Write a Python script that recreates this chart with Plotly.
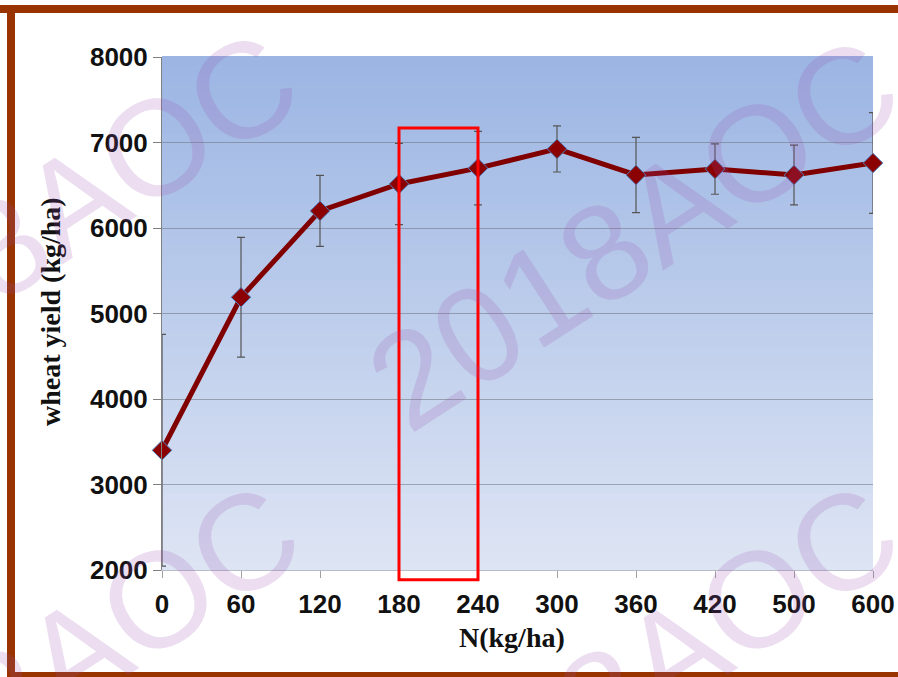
import plotly.graph_objects as go

# ---- data ----
n_rates = ["0", "60", "120", "180", "240", "300", "360", "420", "500", "600"]
yield_kg = [3400, 5190, 6200, 6515, 6700, 6925, 6620, 6690, 6620, 6760]
yield_err = [1355, 700, 415, 475, 430, 270, 440, 295, 350, 590]
y_ticks = [2000, 3000, 4000, 5000, 6000, 7000, 8000]
y_range = [2000, 8000]
highlight = ("180", "240")
highlight_y = (1885, 7170)
watermark_text = "2018AOC"

W, H = 898, 677
L, R, T, B = 162, 873, 57, 570  # plot area in pixels


def px(x):
    return (x - L) / (R - L)


def py(y):
    return (B - y) / (B - T)


xpos = list(range(len(n_rates)))

fig = go.Figure()
fig.add_trace(go.Scatter(
    x=xpos, y=yield_kg,
    mode="lines+markers",
    line=dict(color="#800000", width=5),
    marker=dict(symbol="diamond", size=15, color="#8b0000",
                line=dict(color="#4f81bd", width=1)),
    error_y=dict(type="data", array=yield_err, visible=True,
                 color="#555555", thickness=1.2, width=4),
    cliponaxis=False,
    showlegend=False,
))

shapes = []
# vertical gradient background of plot area
top_c = (155, 181, 227)
bot_c = (222, 229, 244)
nb = 60
for i in range(nb):
    t = (i + 0.5) / nb
    c = tuple(int(round(bot_c[k] + (top_c[k] - bot_c[k]) * t)) for k in range(3))
    shapes.append(dict(type="rect", xref="paper", yref="paper",
                       x0=0, x1=1, y0=i / nb, y1=(i + 1) / nb + 0.002,
                       fillcolor="rgb(%d,%d,%d)" % c, line=dict(width=0),
                       layer="below"))

# highlight box around 180-240 (extends below the axis, so paper refs)
i0 = n_rates.index(highlight[0])
i1 = n_rates.index(highlight[1])
nx = len(n_rates) - 1
span = y_range[1] - y_range[0]
shapes.append(dict(type="rect", xref="paper", yref="paper",
                   x0=i0 / nx, x1=i1 / nx,
                   y0=(highlight_y[0] - y_range[0]) / span,
                   y1=(highlight_y[1] - y_range[0]) / span,
                   line=dict(color="#ff0000", width=3),
                   fillcolor="rgba(0,0,0,0)", layer="above"))

# brown frame
brown = "#993300"
shapes.append(dict(type="rect", xref="paper", yref="paper",
                   x0=px(0), x1=px(W), y0=py(13), y1=py(5),
                   fillcolor=brown, line=dict(width=0), layer="above"))
shapes.append(dict(type="rect", xref="paper", yref="paper",
                   x0=px(7), x1=px(15), y0=py(677), y1=py(5),
                   fillcolor=brown, line=dict(width=0), layer="above"))
shapes.append(dict(type="rect", xref="paper", yref="paper",
                   x0=px(7), x1=px(W), y0=py(677), y1=py(672),
                   fillcolor=brown, line=dict(width=0), layer="above"))

annotations = []
# axis titles
annotations.append(dict(text="<b>N(kg/ha)</b>", xref="paper", yref="paper",
                        x=px(512), y=py(637), showarrow=False,
                        font=dict(family="Liberation Serif, Times New Roman, serif",
                                  size=28, color="#111111"),
                        xanchor="center", yanchor="middle"))
annotations.append(dict(text="<b>wheat yield (kg/ha)</b>", xref="paper", yref="paper",
                        x=px(50), y=py(312), showarrow=False, textangle=-90,
                        font=dict(family="Liberation Serif, Times New Roman, serif",
                                  size=28, color="#111111"),
                        xanchor="center", yanchor="middle"))

# watermarks
for (cx, cy) in [(32, 228), (633, 234), (34, 680), (633, 680)]:
    annotations.append(dict(text=watermark_text, xref="paper", yref="paper",
                            x=px(cx), y=py(cy), showarrow=False, textangle=-33,
                            font=dict(family="Liberation Sans, Arial, sans-serif",
                                      size=136, color="rgba(155,81,176,0.19)"),
                            xanchor="center", yanchor="middle"))

fig.update_layout(
    width=W, height=H,
    margin=dict(l=L, r=W - R, t=T, b=H - B, pad=0, autoexpand=False),
    paper_bgcolor="white",
    plot_bgcolor="rgba(0,0,0,0)",
    shapes=shapes,
    annotations=annotations,
    xaxis=dict(
        range=[0, nx], automargin=False,
        tickmode="array", tickvals=xpos,
        ticktext=["<b>%s</b>" % t for t in n_rates],
        showgrid=False, zeroline=False,
        showline=True, linecolor="#b8bcc6", linewidth=1,
        ticks="outside", ticklen=7, tickcolor="#a0a0a0", tickwidth=1,
        tickfont=dict(family="Liberation Sans, Arial, sans-serif", size=26, color="#111111"),
        ticklabelstandoff=4,
    ),
    yaxis=dict(
        range=y_range, automargin=False,
        tickmode="array", tickvals=y_ticks,
        ticktext=["<b>%d</b>" % v for v in y_ticks],
        showgrid=True, gridcolor="rgba(110,115,125,0.55)", gridwidth=1,
        zeroline=False,
        showline=True, linecolor="#808080", linewidth=1,
        ticks="outside", ticklen=8, tickcolor="#808080", tickwidth=1,
        tickfont=dict(family="Liberation Sans, Arial, sans-serif", size=26, color="#111111"),
    ),
)
fig.write_html("out.html")
